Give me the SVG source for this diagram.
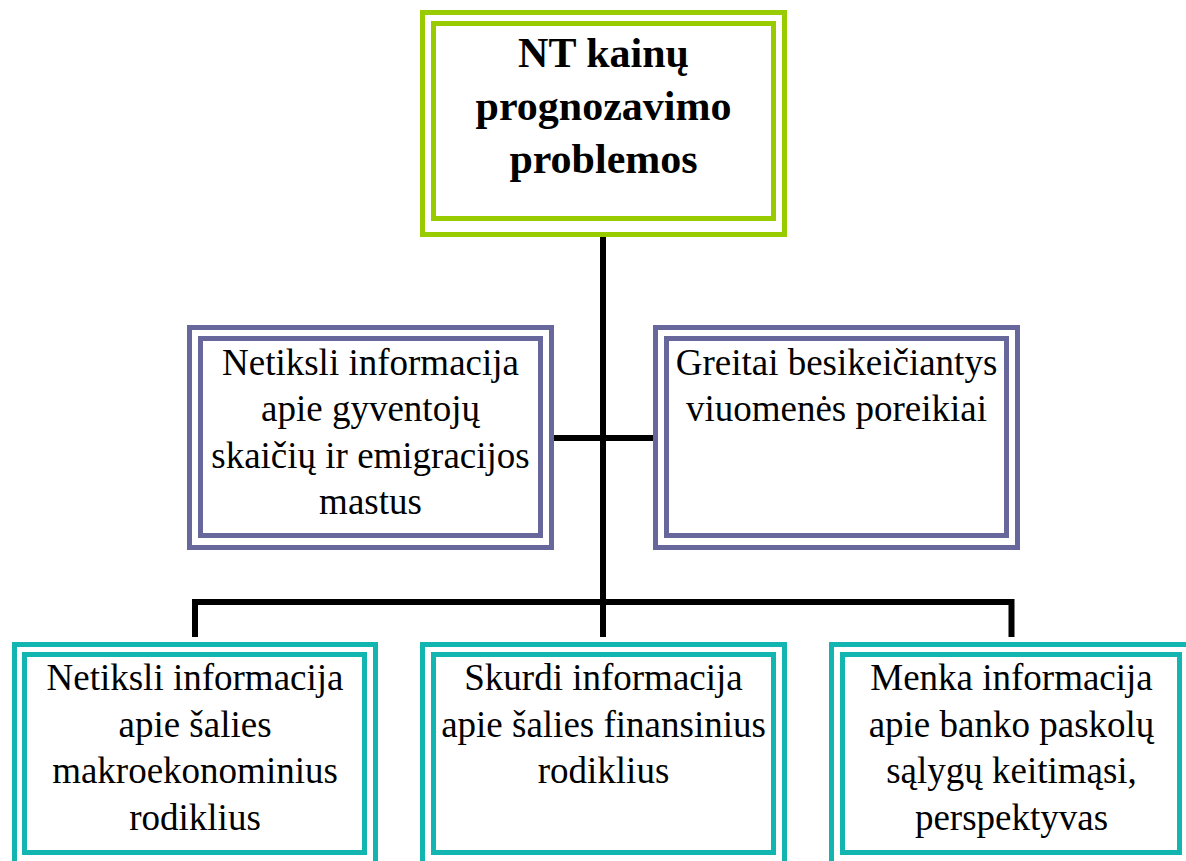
<svg xmlns="http://www.w3.org/2000/svg" width="1186" height="861" viewBox="0 0 1186 861">
<style>
.g{fill:none;stroke:#99CC00;stroke-width:5}
.p{fill:none;stroke:#67679B;stroke-width:5}
.t{fill:none;stroke:#13B5B1;stroke-width:5}
.c{fill:none;stroke:#000;stroke-width:6}
.tb{font-family:"Liberation Serif","Times New Roman",serif;font-size:42px;font-weight:bold;fill:#000;text-anchor:middle}
.tx{font-family:"Liberation Serif","Times New Roman",serif;font-size:37px;fill:#000;text-anchor:middle}
</style>
<rect width="1186" height="861" fill="#fff"/>
<g id="connectors">
<path class="c" d="M603,237 V637"/>
<path class="c" d="M554,438 H653"/>
<path class="c" d="M195,637 V602 H1011.5 V637"/>
</g>
<g id="root">
<rect class="g" x="422.5" y="12.5" width="362" height="222"/>
<rect class="g" x="433.5" y="23.5" width="340" height="195"/>
<text class="tb" x="603.5" y="67">NT kainų</text>
<text class="tb" x="603.5" y="120">prognozavimo</text>
<text class="tb" x="603.5" y="173">problemos</text>
</g>
<g id="mid-left">
<rect class="p" x="189.5" y="327.5" width="362" height="220"/>
<rect class="p" x="200.5" y="338.5" width="340" height="197"/>
<text class="tx" x="370.5" y="375">Netiksli informacija</text>
<text class="tx" x="370.5" y="421">apie gyventojų</text>
<text class="tx" x="370.5" y="468">skaičių ir emigracijos</text>
<text class="tx" x="370.5" y="514">mastus</text>
</g>
<g id="mid-right">
<rect class="p" x="655.5" y="327.5" width="362" height="220"/>
<rect class="p" x="666.5" y="338.5" width="340" height="197"/>
<text class="tx" x="836.5" y="375">Greitai besikeičiantys</text>
<text class="tx" x="836.5" y="421">viuomenės poreikiai</text>
</g>
<g id="bottom-left">
<rect class="t" x="14.5" y="644.5" width="361" height="222"/>
<rect class="t" x="24.5" y="654.5" width="340" height="198"/>
<text class="tx" x="195" y="690">Netiksli informacija</text>
<text class="tx" x="195" y="737">apie šalies</text>
<text class="tx" x="195" y="783">makroekonominius</text>
<text class="tx" x="195" y="830">rodiklius</text>
</g>
<g id="bottom-middle">
<rect class="t" x="422.5" y="644.5" width="362" height="222"/>
<rect class="t" x="433.5" y="654.5" width="340" height="198"/>
<text class="tx" x="603.5" y="690">Skurdi informacija</text>
<text class="tx" x="603.5" y="737">apie šalies finansinius</text>
<text class="tx" x="603.5" y="783">rodiklius</text>
</g>
<g id="bottom-right">
<rect class="t" x="831.5" y="644.5" width="362" height="222"/>
<rect class="t" x="842.5" y="654.5" width="337" height="198"/>
<text class="tx" x="1011.5" y="690">Menka informacija</text>
<text class="tx" x="1011.5" y="737">apie banko paskolų</text>
<text class="tx" x="1011.5" y="783">sąlygų keitimąsi,</text>
<text class="tx" x="1011.5" y="830">perspektyvas</text>
</g>
</svg>
